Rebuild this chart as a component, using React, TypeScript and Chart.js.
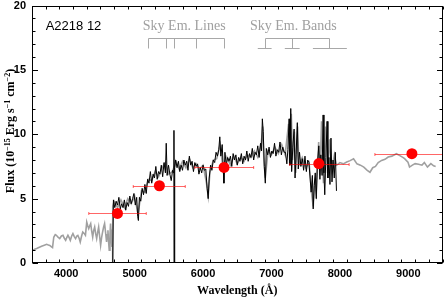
import { useEffect, useRef } from "react";
import { Chart, registerables } from "chart.js";

Chart.register(...registerables);

// ---- Data ----
const grayWave = [
  3500, 3530, 3568, 3600, 3640, 3680, 3713, 3740, 3760, 3785, 3800, 3818, 3840, 3857, 3880, 3905, 3930, 3953, 3975, 3992,
  4010, 4025, 4045, 4060, 4080, 4098, 4118, 4137, 4155, 4170, 4190, 4205, 4225, 4242, 4262, 4281, 4300, 4315, 4329, 4345,
  4358, 4372, 4387, 4400, 4416, 4430, 4445, 4460, 4474, 4490, 4503, 4518, 4532, 4547, 4561, 4575, 4590, 4600, 4610, 4620,
  4629, 4640, 4648, 4658, 4668, 4675, 4678, 4682, 4700, 4750, 4800, 4850, 4900, 4950, 5000, 5050, 5100, 5150, 5200, 5250,
  5300, 5350, 5400, 5450, 5500, 5550, 5574, 5577, 5582, 5600, 5650, 5700, 5750, 5800, 5850, 5900, 5950, 6000, 6050, 6075,
  6100, 6150, 6200, 6250, 6300, 6350, 6400, 6450, 6500, 6550, 6600, 6650, 6700, 6750, 6800, 6850, 6872, 6890, 6910, 6950,
  7000, 7050, 7100, 7150, 7200, 7250, 7268, 7290, 7308, 7335, 7355, 7382, 7400, 7450, 7500, 7550, 7585, 7610, 7630, 7655,
  7690, 7710, 7732, 7760, 7790, 7820, 7850, 7880, 7920, 7950, 7980, 8000, 8050, 8100, 8150, 8200, 8250, 8300, 8350, 8400,
  8440, 8480, 8520, 8560, 8610, 8660, 8706, 8760, 8826, 8870, 8920, 8946, 8995, 9018, 9060, 9100, 9150, 9200, 9235, 9280,
  9330, 9370, 9400,
];
const grayFlux = [
  1.0, 1.05, 1.12, 1.2, 1.3, 1.38, 1.45, 1.4, 1.37, 1.25, 1.2, 2.0, 2.2, 2.15, 2.0, 1.9, 2.1, 2.15, 1.9, 1.76,
  2.0, 2.15, 1.95, 1.76, 2.1, 2.28, 2.05, 1.9, 2.1, 2.15, 1.9, 1.63, 2.1, 2.41, 2.3, 2.15, 3.18, 2.9, 2.67, 2.9,
  3.06, 2.5, 2.02, 2.5, 2.8, 2.3, 1.9, 2.4, 2.8, 2.0, 1.37, 2.0, 2.41, 2.8, 3.06, 2.4, 1.63, 2.2, 2.54, 1.6,
  0.99, 2.2, 3.06, 2.0, 1.24, 2.6, 0.0, 4.4, 4.8, 4.3, 4.9, 4.3, 5.0, 4.6, 5.2, 3.8, 5.6, 5.5, 6.5, 6.4,
  7.1, 6.7, 7.4, 7.8, 6.9, 7.1, 7.4, 0.0, 7.4, 7.9, 7.3, 7.9, 7.4, 8.1, 7.4, 7.7, 7.3, 7.6, 6.2, 5.2,
  7.0, 8.0, 8.1, 9.2, 7.0, 8.2, 7.6, 8.3, 7.7, 8.2, 7.9, 8.4, 8.2, 8.7, 8.2, 9.2, 10.6, 8.0, 6.6, 8.7,
  8.4, 9.0, 8.5, 9.2, 8.4, 10.8, 7.6, 11.6, 8.0, 10.2, 7.0, 10.6, 7.6, 8.2, 7.4, 7.8, 5.5, 4.4, 6.2, 5.4,
  9.4, 6.8, 11.0, 6.2, 10.6, 7.0, 9.6, 7.2, 8.4, 7.6, 7.7, 7.8, 7.7, 7.85, 7.95, 8.1, 7.7, 7.6, 7.45, 7.2,
  7.05, 7.4, 7.5, 7.8, 7.97, 8.05, 8.23, 8.3, 8.49, 8.36, 8.2, 8.1, 7.84, 7.45, 7.6, 7.72, 7.67, 7.6, 7.8, 7.45,
  7.72, 7.55, 7.5,
];

const blackWave = [
  4680, 4690, 4710, 4730, 4750, 4770, 4790, 4810, 4830, 4850, 4870, 4890, 4910, 4930, 4950, 4970, 4990, 5010, 5030, 5045,
  5055, 5070, 5090, 5110, 5130, 5150, 5170, 5190, 5210, 5230, 5250, 5270, 5290, 5310, 5330, 5350, 5370, 5390, 5410, 5430,
  5450, 5462, 5475, 5495, 5515, 5535, 5555, 5570, 5575, 5579, 5585, 5600, 5620, 5640, 5660, 5680, 5700, 5720, 5740, 5760,
  5780, 5800, 5820, 5840, 5860, 5880, 5900, 5920, 5940, 5960, 5980, 6000, 6020, 6040, 6060, 6075, 6090, 6110, 6130, 6150,
  6170, 6190, 6210, 6230, 6245, 6260, 6280, 6295, 6305, 6320, 6340, 6360, 6380, 6400, 6420, 6440, 6460, 6480, 6500, 6520,
  6540, 6560, 6580, 6600, 6620, 6640, 6660, 6680, 6700, 6720, 6740, 6760, 6780, 6800, 6820, 6840, 6855, 6867, 6880, 6895,
  6910, 6925, 6945, 6965, 6985, 7005, 7025, 7045, 7065, 7085, 7105, 7125, 7145, 7165, 7185, 7205, 7225, 7240, 7258, 7270,
  7282, 7295, 7312, 7331, 7345, 7360, 7378, 7392, 7410, 7430, 7451, 7470, 7490, 7510, 7530, 7548, 7565, 7580, 7598, 7610,
  7625, 7640, 7655, 7670, 7692, 7708, 7722, 7740, 7755, 7767, 7779, 7795, 7813, 7825, 7840, 7855, 7870, 7885, 7900, 7918,
  7933, 7950,
];
const blackFlux = [
  0.0, 4.9, 4.3, 4.8, 4.5, 5.1, 4.2, 4.6, 4.3, 4.9, 4.1, 4.7, 4.4, 5.2, 4.6, 5.0, 5.4, 4.5, 5.1, 3.6,
  3.3, 5.1, 4.8, 5.8, 5.3, 6.1, 5.4, 6.5, 6.2, 7.1, 6.2, 6.9, 6.6, 7.5, 6.5, 7.1, 6.9, 7.6, 6.7, 7.8,
  7.0, 9.3, 6.8, 7.6, 6.9, 6.4, 7.2, 7.0, 10.3, 0.0, 7.4, 8.0, 7.4, 7.9, 7.1, 7.6, 7.2, 8.0, 7.6, 7.9,
  7.2, 8.3, 7.6, 7.9, 7.1, 7.8, 7.5, 7.7, 6.9, 7.4, 7.0, 7.6, 7.2, 7.3, 5.8, 5.0, 6.6, 7.6, 7.2, 8.0,
  7.8, 8.6, 8.3, 8.8, 9.8, 8.3, 9.2, 7.4, 6.2, 8.6, 7.6, 8.2, 7.9, 8.3, 7.5, 8.5, 8.0, 8.4, 7.6, 8.2,
  7.9, 8.5, 7.7, 8.3, 8.0, 8.7, 7.9, 8.5, 8.2, 8.9, 8.0, 8.6, 8.4, 9.1, 8.2, 9.3, 8.7, 11.2, 10.2, 7.5,
  6.2, 8.9, 8.4, 9.0, 8.2, 8.7, 8.5, 9.3, 8.3, 8.8, 8.6, 9.4, 8.4, 9.0, 8.6, 8.6, 7.7, 8.8, 11.2, 7.6,
  12.0, 7.1, 9.0, 10.4, 6.6, 8.4, 10.9, 7.3, 8.6, 7.5, 8.1, 7.2, 8.3, 7.1, 8.0, 7.8, 6.6, 5.5, 6.8, 4.2,
  6.0, 7.0, 5.0, 7.6, 9.1, 6.5, 8.4, 6.8, 11.5, 7.0, 5.3, 8.2, 11.0, 6.6, 8.2, 6.1, 9.7, 6.3, 8.0, 6.6,
  8.6, 5.6,
];

const photWave = [4749, 5362, 6307, 7692, 9053];
const photFlux = [3.85, 6.0, 7.42, 7.72, 8.49];
const photWaveLow = [4330, 4980, 5880, 7267, 8512];
const photWaveHigh = [5170, 5740, 6740, 8135, 9600];
const photFluxErr = [0.25, 0.25, 0.25, 0.25, 0.25];

const skyLineWaves = [5199, 5461, 5577, 5893, 6300];
const skyBandMarks = [6905, 7302, 7846];
const skyBandLow = [6800, 7195, 7606];
const skyBandHigh = [7002, 7412, 8102];

const labelTexts = ["A2218 12", "Sky Em. Lines", "Sky Em. Bands"];
const labelWaves = [3700, 5120, 6685];
const labelFluxes = [18.4, 18.4, 18.4];

const xTickValues = [4000, 5000, 6000, 7000, 8000, 9000];
const yTickValues = [0, 5, 10, 15, 20];
const X_MIN = 3500, X_MAX = 9500, X_MINOR = 200;
const Y_MIN = 0, Y_MAX = 20, Y_MINOR = 1;

const toPoints = (xs: number[], ys: number[]) => xs.map((x, i) => ({ x, y: ys[i] }));

const SERIF = "'Liberation Serif', 'DejaVu Serif', serif";
const SANS = "'Liberation Sans', 'DejaVu Sans', sans-serif";

const overlayPlugin = {
  id: "overlay",
  afterDatasetDraw(chart: any, args: any) {
    if (args.index !== 1) return;
    const { ctx, chartArea: a, scales } = chart;
    const x = scales.x, y = scales.y;
    ctx.save();
    ctx.beginPath();
    ctx.rect(a.left, a.top, a.right - a.left, a.bottom - a.top);
    ctx.clip();
    ctx.strokeStyle = "rgba(255,0,0,0.6)";
    ctx.lineWidth = 1;
    photWave.forEach((w, i) => {
      const py = Math.round(y.getPixelForValue(photFlux[i])) + 0.5;
      const x0 = x.getPixelForValue(photWaveLow[i]);
      const x1 = x.getPixelForValue(photWaveHigh[i]);
      ctx.beginPath();
      ctx.moveTo(x0, py);
      ctx.lineTo(x1, py);
      ctx.moveTo(x0, py - 1.5);
      ctx.lineTo(x0, py + 1.5);
      ctx.moveTo(x1, py - 1.5);
      ctx.lineTo(x1, py + 1.5);
      const px = x.getPixelForValue(w);
      ctx.moveTo(px, y.getPixelForValue(photFlux[i] + photFluxErr[i]));
      ctx.lineTo(px, y.getPixelForValue(photFlux[i] - photFluxErr[i]));
      ctx.stroke();
    });
    ctx.restore();
  },
  afterDraw(chart: any) {
    const { ctx, chartArea: a, scales } = chart;
    const x = scales.x, y = scales.y;
    ctx.save();
    // frame
    ctx.strokeStyle = "#000";
    ctx.lineWidth = 1;
    const L = Math.round(a.left) + 0.5, R = Math.round(a.right) - 0.5;
    const T = Math.round(a.top) + 0.5, B = Math.round(a.bottom) - 0.5;
    ctx.strokeRect(L, T, R - L, B - T);
    // inward ticks on all sides
    ctx.beginPath();
    for (let v = X_MIN; v <= X_MAX; v += X_MINOR) {
      const major = v % 1000 === 0;
      const len = major ? 5.5 : 3;
      const px = Math.round(x.getPixelForValue(v)) + 0.5;
      ctx.moveTo(px, B);
      ctx.lineTo(px, B - len);
      ctx.moveTo(px, T);
      ctx.lineTo(px, T + len);
    }
    for (let v = Y_MIN; v <= Y_MAX; v += Y_MINOR) {
      const major = v % 5 === 0;
      const len = major ? 5.5 : 3;
      const py = Math.round(y.getPixelForValue(v)) + 0.5;
      ctx.moveTo(L, py);
      ctx.lineTo(L + len, py);
      ctx.moveTo(R, py);
      ctx.lineTo(R - len, py);
    }
    ctx.stroke();

    // sky emission markers
    ctx.strokeStyle = "#a8a8a8";
    ctx.lineWidth = 1;
    const yTop = Math.round(y.getPixelForValue(17.45)) + 0.5;
    const yBot = Math.round(y.getPixelForValue(16.68)) + 0.5;
    ctx.beginPath();
    const lx = skyLineWaves.map((w) => Math.round(x.getPixelForValue(w)) + 0.5);
    ctx.moveTo(lx[0], yTop);
    ctx.lineTo(lx[lx.length - 1], yTop);
    lx.forEach((p) => {
      ctx.moveTo(p, yTop);
      ctx.lineTo(p, yBot);
    });
    const bx = skyBandMarks.map((w) => Math.round(x.getPixelForValue(w)) + 0.5);
    ctx.moveTo(bx[0], yTop);
    ctx.lineTo(bx[bx.length - 1], yTop);
    bx.forEach((p, i) => {
      ctx.moveTo(p, yTop);
      ctx.lineTo(p, yBot);
      ctx.moveTo(x.getPixelForValue(skyBandLow[i]), yBot);
      ctx.lineTo(x.getPixelForValue(skyBandHigh[i]), yBot);
    });
    ctx.stroke();

    // text labels
    ctx.textBaseline = "middle";
    ctx.textAlign = "left";
    labelTexts.forEach((t, i) => {
      if (i === 0) {
        ctx.fillStyle = "#000";
        ctx.font = `13px ${SANS}`;
      } else {
        ctx.fillStyle = "#a0a0a0";
        ctx.font = `14px ${SERIF}`;
      }
      ctx.fillText(t, x.getPixelForValue(labelWaves[i]), y.getPixelForValue(labelFluxes[i]));
    });

    // y axis title with superscripts
    const parts: [string, boolean][] = [
      ["Flux (10", false],
      ["−15", true],
      [" Erg s", false],
      ["−1", true],
      [" cm", false],
      ["−2", true],
      [")", false],
    ];
    const mainFont = `bold 12px ${SERIF}`;
    const supFont = `bold 8px ${SERIF}`;
    let total = 0;
    const widths = parts.map(([s, sup]) => {
      ctx.font = sup ? supFont : mainFont;
      const w = ctx.measureText(s).width;
      total += w;
      return w;
    });
    ctx.translate(10, 131);
    ctx.rotate(-Math.PI / 2);
    ctx.fillStyle = "#000";
    ctx.textBaseline = "alphabetic";
    let cx = -total / 2;
    parts.forEach(([s, sup], i) => {
      ctx.font = sup ? supFont : mainFont;
      ctx.fillText(s, cx, sup ? 0 : 4);
      cx += widths[i];
    });
    ctx.restore();
  },
};

export default function App() {
  const ref = useRef<HTMLCanvasElement | null>(null);
  useEffect(() => {
    if (!ref.current) return;
    const chart = new Chart(ref.current, {
      type: "scatter",
      data: {
        datasets: [
          {
            data: toPoints(photWave, photFlux),
            pointRadius: 5.5,
            pointBackgroundColor: "#ff0000",
            pointBorderColor: "#ff0000",
            pointBorderWidth: 0,
            showLine: false,
          },
          {
            data: toPoints(blackWave, blackFlux),
            showLine: true,
            borderColor: "#000",
            borderWidth: 1,
            pointRadius: 0,
            tension: 0,
          },
          {
            data: toPoints(grayWave, grayFlux),
            showLine: true,
            borderColor: "#a0a0a0",
            borderWidth: 1.6,
            pointRadius: 0,
            tension: 0,
          },
        ],
      },
      options: {
        animation: false,
        responsive: false,
        devicePixelRatio: 1,
        events: [],
        layout: { padding: { top: 5, right: 1, left: 0, bottom: 0 } },
        plugins: { legend: { display: false }, tooltip: { enabled: false } },
        scales: {
          x: {
            type: "linear",
            min: X_MIN,
            max: X_MAX,
            grid: { display: false, drawTicks: false },
            border: { display: false },
            ticks: {
              color: "#000",
              padding: 4,
              maxRotation: 0,
              autoSkip: false,
              font: { family: SANS, size: 11, weight: "bold" },
              callback: (v: any) => String(v),
            },
            afterBuildTicks: (s: any) => {
              s.ticks = xTickValues.map((v) => ({ value: v }));
            },
            afterFit: (s: any) => {
              s.height = 37;
              s.paddingLeft = 0;
              s.paddingRight = 0;
            },
            title: {
              display: true,
              text: "Wavelength (Å)",
              color: "#000",
              font: { family: SERIF, size: 12, weight: "bold" },
              padding: { top: 0, bottom: 2 },
            },
          },
          y: {
            type: "linear",
            min: Y_MIN,
            max: Y_MAX,
            grid: { display: false, drawTicks: false },
            border: { display: false },
            ticks: {
              color: "#000",
              padding: 6,
              font: { family: SANS, size: 11, weight: "bold" },
              callback: (v: any) => String(v),
            },
            afterBuildTicks: (s: any) => {
              s.ticks = yTickValues.map((v) => ({ value: v }));
            },
            afterFit: (s: any) => {
              s.width = 32;
              s.paddingTop = 0;
              s.paddingBottom = 0;
            },
          },
        },
      },
      plugins: [overlayPlugin],
    });
    return () => chart.destroy();
  }, []);
  return (
    <div style={{ position: "fixed", left: 0, top: 0, width: 448, height: 300, background: "#fff" }}>
      <canvas ref={ref} width={448} height={300} style={{ display: "block" }} />
    </div>
  );
}
